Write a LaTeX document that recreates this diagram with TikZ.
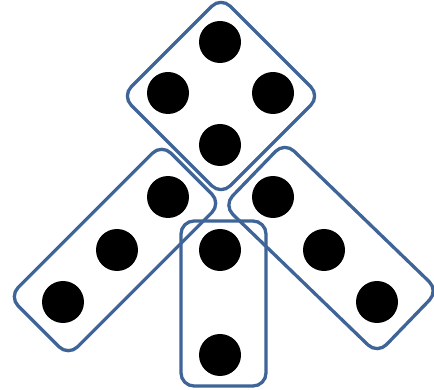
\documentclass[tikz,border=0pt]{standalone}
\definecolor{edgeblue}{RGB}{62,100,152}
\begin{document}
\begin{tikzpicture}[x=1pt,y=-1pt,
  domino/.style={draw=edgeblue,line width=3.3pt,rounded corners=13pt},
  pip/.style={fill=black}]
\useasboundingbox (0,0) rectangle (434,390);

% tiles
\draw[domino,rotate around={45:(221,96)}] (151,26) rectangle (291,166);
\draw[domino,rotate around={45:(115,250)}] (7,208) rectangle (223,292);
\draw[domino,rotate around={-44:(331,248)}] (224,204) rectangle (438,292);
\draw[domino] (181,221) rectangle (266,386);

% pips
\fill[pip] (220,42) circle (21);
\fill[pip] (168,93) circle (21);
\fill[pip] (273,93) circle (21);
\fill[pip] (220,145) circle (21);

\fill[pip] (63,302) circle (21);
\fill[pip] (117,250) circle (21);
\fill[pip] (168,197) circle (21);

\fill[pip] (273,197) circle (21);
\fill[pip] (324,250) circle (21);
\fill[pip] (377,302) circle (21);

\fill[pip] (220,250) circle (21);
\fill[pip] (220,355) circle (21);
\end{tikzpicture}
\end{document}
